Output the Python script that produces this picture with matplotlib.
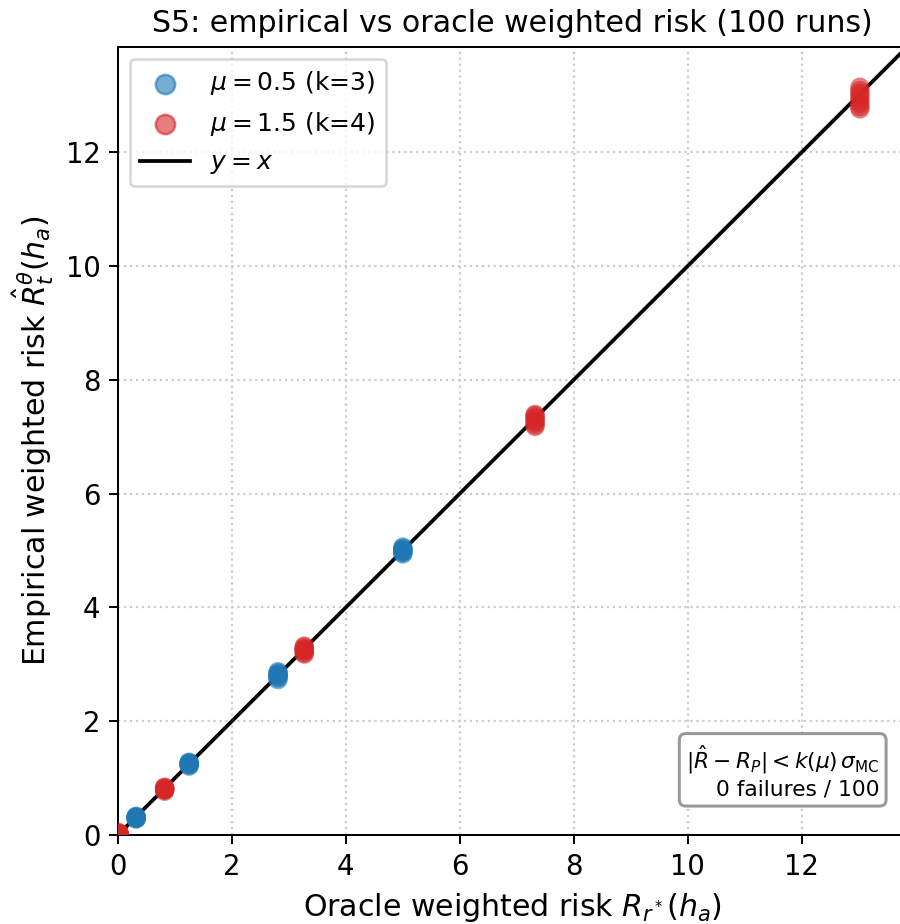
import numpy as np
import matplotlib
matplotlib.use("Agg")
import matplotlib.pyplot as plt

# oracle risk per cluster and a sample of empirical values (runs)
oracle_mu05 = [0.32, 1.25, 2.81, 5.00]
emp_mu05 = [
    [0.28, 0.29, 0.30, 0.31, 0.32, 0.33, 0.30, 0.31],
    [1.21, 1.23, 1.24, 1.25, 1.26, 1.27, 1.28, 1.25],
    [2.73, 2.76, 2.79, 2.81, 2.83, 2.85, 2.87, 2.80],
    [4.94, 4.96, 4.98, 5.00, 5.02, 5.04, 5.06, 4.99],
]
oracle_mu15 = [0.02, 0.82, 3.27, 7.32, 13.02]
emp_mu15 = [
    [0.00, 0.01, 0.02, 0.03, 0.04, 0.02, 0.01, 0.03],
    [0.77, 0.79, 0.80, 0.81, 0.82, 0.83, 0.84, 0.80],
    [3.18, 3.20, 3.23, 3.25, 3.27, 3.30, 3.32, 3.26],
    [7.18, 7.21, 7.25, 7.28, 7.31, 7.34, 7.37, 7.39],
    [12.76, 12.80, 12.86, 12.92, 12.98, 13.03, 13.08, 13.14],
]

lim = 13.85

fig = plt.figure(figsize=(5, 924 / 180), dpi=180)
ax = fig.add_axes([0.131, 0.0963, 0.877, 0.853])

for xo, ys in zip(oracle_mu05, emp_mu05):
    ax.scatter([xo] * len(ys), ys, s=60, color="tab:blue", alpha=0.6,
               edgecolors="none", zorder=3)
for xo, ys in zip(oracle_mu15, emp_mu15):
    ax.scatter([xo] * len(ys), ys, s=60, color="tab:red", alpha=0.6,
               edgecolors="none", zorder=3)

# legend handles
ax.scatter([], [], s=60, color="tab:blue", alpha=0.6, label=r"$\mu=0.5$ (k=3)")
ax.scatter([], [], s=60, color="tab:red", alpha=0.6, label=r"$\mu=1.5$ (k=4)")
ax.plot([0, lim], [0, lim], color="black", lw=1.5, zorder=2, label=r"$y=x$")

ax.set_xlim(0, lim)
ax.set_ylim(0, lim)
ax.set_xticks([0, 2, 4, 6, 8, 10, 12])
ax.set_yticks([0, 2, 4, 6, 8, 10, 12])
ax.tick_params(labelsize=11)
ax.grid(True, linestyle=":", color="0.8", linewidth=0.9)
ax.set_axisbelow(True)

ax.set_xlabel(r"Oracle weighted risk $R_{r^*}(h_a)$", fontsize=12)
ax.set_ylabel(r"Empirical weighted risk $\hat{R}^{\theta}_{t}(h_a)$", fontsize=12)
ax.set_title("S5: empirical vs oracle weighted risk (100 runs)", fontsize=12)

ax.legend(loc="upper left", fontsize=10)

ax.text(0.965, 0.045,
        r"$|\hat{R} - R_P| < k(\mu)\,\sigma_{\mathrm{MC}}$" + "\n0 failures / 100",
        transform=ax.transAxes, ha="right", va="bottom", fontsize=8.7,
        bbox=dict(boxstyle="round", facecolor="white", edgecolor="0.6",
                  linewidth=1.2))

fig.savefig("out.png", dpi=180)
